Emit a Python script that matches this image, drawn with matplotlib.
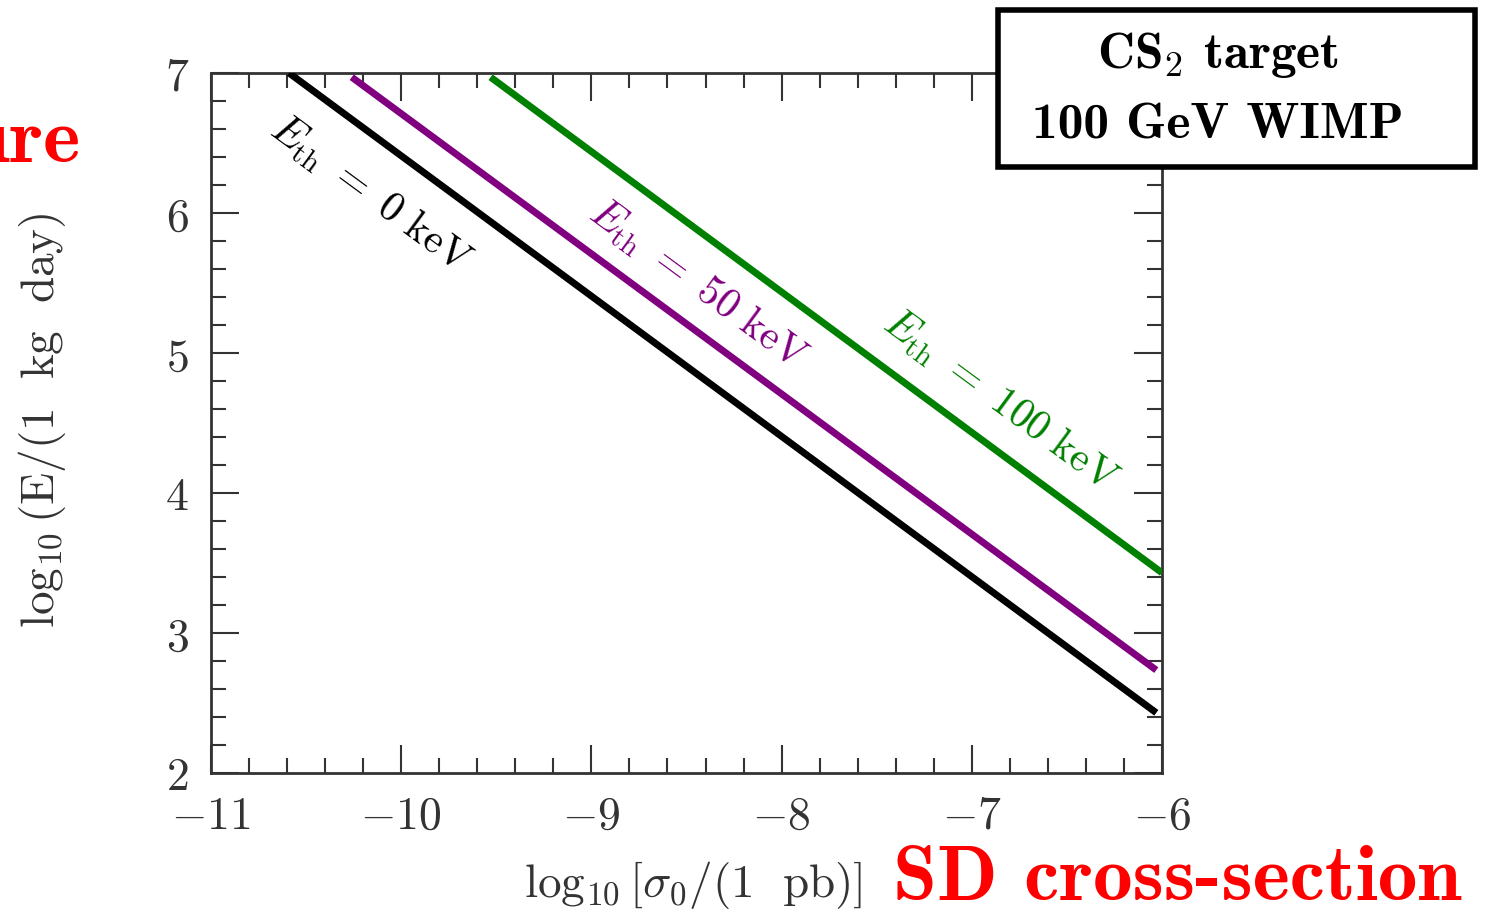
import numpy as np
import matplotlib
matplotlib.use("Agg")
import matplotlib.pyplot as plt
from matplotlib.patches import Rectangle
from matplotlib.ticker import MultipleLocator, FuncFormatter

plt.rcParams["mathtext.fontset"] = "cm"

# Exposure needed vs. cross-section, one line per recoil threshold
log_sigma_ends = [[-10.59, -6.03], [-10.26, -6.03], [-9.53, -6.0]]
log_exposure_ends = [[7.0, 2.43], [6.97, 2.735], [6.97, 3.43]]
threshold_kev = [0, 50, 100]
line_colors = ["black", "#800080", "#008000"]
label_pos = [(-10.16, 6.13), (-8.44, 5.49), (-6.85, 4.66)]

W, H = 1510, 911
fig = plt.figure(figsize=(W / 100, H / 100), dpi=100)
ax = fig.add_axes([211 / W, 1 - 773 / H, (1162 - 211) / W, (773 - 73) / H])

for xs, ys, c in zip(log_sigma_ends, log_exposure_ends, line_colors):
    ax.plot(xs, ys, color=c, lw=5, solid_capstyle="butt", zorder=3)

for (lx, ly), e, c in zip(label_pos, threshold_kev, line_colors):
    ax.text(lx, ly, r"$E_{\rm th}\ =\ %d\ {\rm keV}$" % e, color=c, fontsize=30,
            rotation=-45, transform_rotates_text=True, rotation_mode="anchor",
            ha="center", va="center")

ax.set_xlim(-11, -6)
ax.set_ylim(2, 7)
ax.xaxis.set_major_locator(MultipleLocator(1))
ax.xaxis.set_minor_locator(MultipleLocator(0.2))
ax.yaxis.set_major_locator(MultipleLocator(1))
ax.yaxis.set_minor_locator(MultipleLocator(0.2))
fmt = FuncFormatter(lambda v, p: r"$%d$" % round(v))
ax.xaxis.set_major_formatter(fmt)
ax.yaxis.set_major_formatter(fmt)
ax.tick_params(which="both", direction="in", top=True, right=True,
               colors="#333333", labelsize=33, width=1.5)
ax.tick_params(which="major", length=20)
ax.tick_params(which="minor", length=11)
ax.tick_params(axis="x", pad=15)
ax.tick_params(axis="y", pad=16)
for s in ax.spines.values():
    s.set_color("#333333")
    s.set_linewidth(2)

# axis titles placed by hand
fig.text(42 / W, 1 - 420 / H, r"$\log_{10}(\mathrm{E}/(1\ \ \mathrm{kg}\ \ \mathrm{day})$",
         fontsize=34, color="#333333", rotation=90, ha="center", va="center")
fig.text(862 / W, 1 - 897 / H, r"$\log_{10}[\sigma_0/(1\ \ \mathrm{pb})]$", fontsize=34,
         color="#333333", ha="right", va="baseline")

# red headline text around the plot
fig.text(893 / W, 1 - 900 / H, "SD cross-section", family="cmb10", fontsize=57,
         color="red", ha="left", va="baseline")
fig.text(80 / W, 1 - 162 / H, "Exposure", family="cmb10", fontsize=57,
         color="red", ha="right", va="baseline")

# info box over the top-right corner
fig.add_artist(Rectangle((998 / W, 1 - 167 / H), (1475 - 998) / W, (167 - 10) / H,
                         transform=fig.transFigure, facecolor="white",
                         edgecolor="black", lw=4, zorder=5))
fig.text(1218 / W, 1 - 68 / H, r"CS$_2$ target", family="cmb10", fontsize=37,
         ha="center", va="baseline", zorder=6)
fig.text(1218 / W, 1 - 138 / H, "100 GeV WIMP", family="cmb10", fontsize=37,
         ha="center", va="baseline", zorder=6)

fig.savefig("out.png", dpi=100)
